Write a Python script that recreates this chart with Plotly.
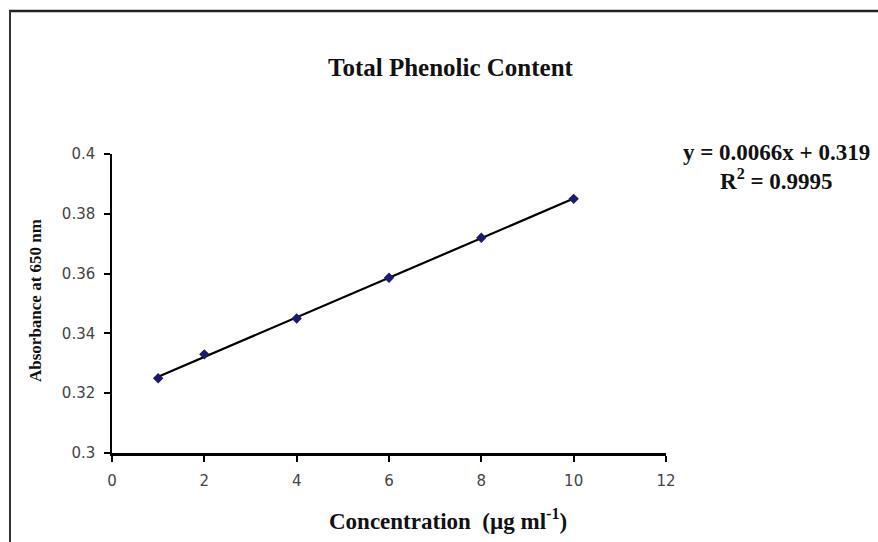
import numpy as np
import plotly.graph_objects as go

# ---- data ----
concentration = [1, 2, 4, 6, 8, 10]
absorbance = [0.325, 0.333, 0.345, 0.3586, 0.372, 0.385]
x_ticks = [0, 2, 4, 6, 8, 10, 12]
y_ticks = [0.3, 0.32, 0.34, 0.36, 0.38, 0.4]
title_text = "Total Phenolic Content"
x_title = "Concentration  (µg ml<sup>-1</sup>)"
y_title = "Absorbance at 650 nm"
eq_line1 = "y = 0.0066x + 0.319"
eq_line2 = "R<sup>2</sup> = 0.9995"

# linear trend line (least squares fit of the data)
slope, intercept = np.polyfit(concentration, absorbance, 1)
trend_x = [min(concentration), max(concentration)]
trend_y = [slope * v + intercept for v in trend_x]

W, H = 878, 542
L, R, T, B = 112, 666, 154, 453  # plot area in pixels


def px(xp):
    return (xp - L) / (R - L)


def py(yp):
    return (B - yp) / (B - T)


fig = go.Figure()
fig.add_trace(go.Scatter(x=trend_x, y=trend_y, mode="lines",
                         line=dict(color="black", width=2.2),
                         hoverinfo="skip", showlegend=False))
fig.add_trace(go.Scatter(x=concentration, y=absorbance, mode="markers",
                         marker=dict(symbol="diamond", size=8, color="#1c1a6e"),
                         showlegend=False))

serif = "Liberation Serif, Times New Roman, serif"
tickfont = dict(family="DejaVu Sans", size=15, color="#444")
fig.update_layout(
    width=W, height=H,
    margin=dict(l=L, r=W - R, t=T, b=H - B),
    paper_bgcolor="white", plot_bgcolor="white",
    xaxis=dict(range=[0, 12], tickvals=x_ticks, showgrid=False, zeroline=False,
               showline=True, linecolor="black", linewidth=3,
               ticks="outside", ticklen=6, tickcolor="black", tickwidth=1.5,
               ticklabelstandoff=6, tickfont=tickfont),
    yaxis=dict(range=[0.3, 0.4], tickvals=y_ticks, showgrid=False, zeroline=False,
               showline=True, linecolor="black", linewidth=1.5,
               ticks="outside", ticklen=6, tickcolor="black", tickwidth=1.5,
               ticklabelstandoff=6, tickfont=tickfont),
    shapes=[
        dict(type="line", xref="paper", yref="paper",
             x0=px(9), x1=px(900), y0=py(11), y1=py(11),
             line=dict(color="#222", width=2.5)),
        dict(type="line", xref="paper", yref="paper",
             x0=px(10), x1=px(10), y0=py(11), y1=py(560),
             line=dict(color="#333", width=2)),
    ],
    annotations=[
        dict(text=title_text, xref="paper", yref="paper", x=px(451), y=py(68),
             showarrow=False, xanchor="center", yanchor="middle",
             font=dict(family=serif, size=25, color="#111", weight="bold")),
        dict(text=x_title, xref="paper", yref="paper", x=px(448), y=py(519),
             showarrow=False, xanchor="center", yanchor="middle",
             font=dict(family=serif, size=23, color="#111", weight="bold")),
        dict(text=y_title, xref="paper", yref="paper", x=px(35), y=py(301),
             showarrow=False, xanchor="center", yanchor="middle", textangle=-90,
             font=dict(family=serif, size=17, color="#111", weight="bold")),
        dict(text=eq_line1, xref="paper", yref="paper", x=px(776), y=py(152),
             showarrow=False, xanchor="center", yanchor="middle",
             font=dict(family=serif, size=23, color="#111", weight="bold")),
        dict(text=eq_line2, xref="paper", yref="paper", x=px(776), y=py(179),
             showarrow=False, xanchor="center", yanchor="middle",
             font=dict(family=serif, size=23, color="#111", weight="bold")),
    ],
)

fig.write_html("out.html")
